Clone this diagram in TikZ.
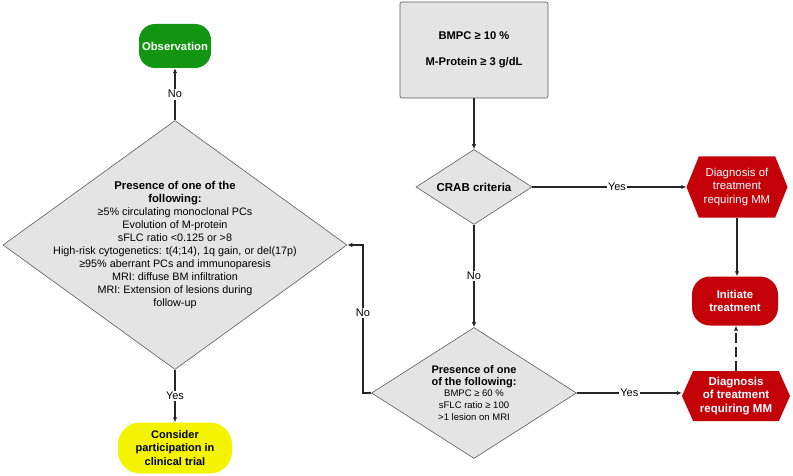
\documentclass[tikz,border=0pt]{standalone}
\usepackage{fontspec}
\setmainfont{Liberation Sans}
\usetikzlibrary{arrows.meta}
\usetikzlibrary{shapes.geometric}
\usetikzlibrary{shapes.symbols}
\definecolor{obsgreen}{HTML}{129612}
\definecolor{mmred}{HTML}{C40008}
\definecolor{trialyellow}{HTML}{F4F400}
\definecolor{boxgray}{HTML}{E4E4E4}
\definecolor{linegray}{HTML}{5A5A5A}
\tikzset{arr/.style = {draw = black!85, line width = 1.1pt, -{Latex[length = 5pt, width = 4.5pt]}}}
\tikzset{lbl/.style = {fill = white, inner sep = 1.5pt, font = \fontsize{11}{13}\selectfont}}
\tikzset{term/.style = {rounded corners = 16pt, inner sep = 0, align = center, font = \bfseries\fontsize{11.3}{13.5}\selectfont}}
\tikzset{decide/.style = {diamond, draw = linegray, fill = boxgray, inner sep = 0, line width = 0.6pt}}
\tikzset{hexa/.style = {signal, signal to = east and west, fill = mmred, text = white, inner sep = 0, align = center}}

\begin{document}
\begin{tikzpicture}[x = 1pt, y = -1pt]
      \useasboundingbox (0, 0) rectangle (793, 476);

      % left column
      \node [term, fill = obsgreen, text = white, minimum width = 72pt, minimum height = 44pt] (obs) at (175, 46) {Observation};

      \node [decide, minimum width = 344pt, minimum height = 249pt] (risk) at (175, 245) {};
      \node [align = center, font = \fontsize{10.8}{12.9}\selectfont] (risktext) at (risk) {\textbf{\fontsize{11.3}{13}\selectfont Presence of one of the}\\
        \textbf{\fontsize{11.3}{13}\selectfont following:}\\
        ≥5\% circulating monoclonal PCs\\
        Evolution of M-protein\\
        sFLC ratio <0.125 or >8\\
        High-risk cytogenetics: t(4;14), 1q gain, or del(17p)\\
        ≥95\% aberrant PCs and immunoparesis\\
        MRI: diffuse BM infiltration\\
        MRI: Extension of lesions during\\
        follow-up};

      \node [term, rounded corners = 22pt, fill = trialyellow, minimum width = 114pt, minimum height = 51pt, font = \bfseries\fontsize{11}{13.5}\selectfont] (trial) at (175, 448) {Consider\\ participation in\\ clinical trial};

      % right column
      \node [draw = linegray, fill = boxgray, line width = 0.6pt, rounded corners = 2pt, minimum width = 148pt, minimum height = 96pt, align = center, font = \bfseries\fontsize{11.2}{13}\selectfont] (crit) at (474, 50) {BMPC ≥ 10 \%\\[13pt] M-Protein ≥ 3 g/dL};

      \node [decide, minimum width = 116pt, minimum height = 75pt] (crab) at (474, 187) {};
      \node [font = \bfseries\fontsize{11.5}{13}\selectfont] (crabtext) at (crab) {CRAB criteria};

      \node [decide, minimum width = 205pt, minimum height = 131pt] (slim) at (474, 393) {};
      \node [align = center, font = \fontsize{9.5}{11.6}\selectfont] (slimtext) at (slim) {\textbf{\fontsize{11}{13.5}\selectfont Presence of one}\\
        \textbf{\fontsize{11}{13.5}\selectfont of the following:}\\
        BMPC ≥ 60 \%\\
        sFLC ratio ≥ 100\\
        >1 lesion on MRI};

      \node [hexa, signal pointer angle = 136, minimum width = 101pt, minimum height = 61pt, font = \fontsize{11.4}{13.5}\selectfont] (mmone) at (737, 187) {Diagnosis of\\ treatment\\ requiring MM};
      \node [term, rounded corners = 18pt, fill = mmred, text = white, minimum width = 86pt, minimum height = 49pt] (init) at (735, 301) {Initiate\\ treatment};
      \node [hexa, signal pointer angle = 132, minimum width = 108pt, minimum height = 50pt, font = \bfseries\fontsize{11.5}{13.5}\selectfont] (mmtwo) at (736, 396) {Diagnosis\\ of treatment\\ requiring MM};

      \coordinate (nobend) at (363, 393);

      % connectors
      \draw [arr] (risk.north) -- node [lbl, pos = 0.5] {No} (obs.south);
      \draw [arr] (risk.south) -- node [lbl, pos = 0.5] {Yes} (trial.north);
      \draw [arr] (crit.south) -- (crab.north);
      \draw [arr] (crab.east) -- node [lbl, pos = 0.55] {Yes} (mmone.west);
      \draw [arr] (crab.south) -- node [lbl, pos = 0.5] {No} (slim.north);
      \draw [arr] (mmone.south) -- (mmone.south |- init.north);
      \draw [arr, dash pattern = on 10pt off 4pt] (mmtwo.north) -- (mmtwo.north |- init.south);
      \draw [arr] (slim.east) -- node [lbl, pos = 0.5] {Yes} (slim.east -| mmtwo.west);
      \draw [arr] (slim.west) -- (nobend) |- node [lbl, pos = 0.27] {No} (risk.east);
    \end{tikzpicture}
\end{document}
